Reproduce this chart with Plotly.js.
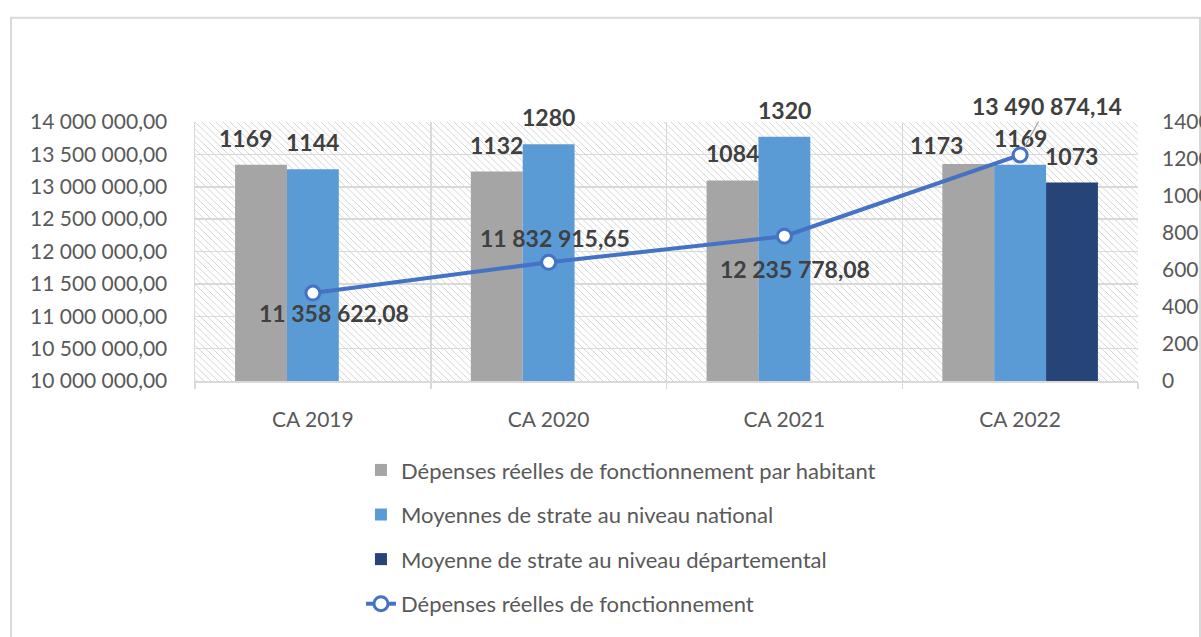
<!DOCTYPE html>
<html>
<head>
<meta charset="utf-8">
<script src="https://cdn.plot.ly/plotly-3.0.1.min.js"></script>
<style>
html,body{margin:0;padding:0;background:#fff;}
#chart{width:1201px;height:637px;}
</style>
</head>
<body>
<div id="chart"></div>
<script>
const categories = ["CA 2019", "CA 2020", "CA 2021", "CA 2022"];
const depParHabitant = [1169, 1132, 1084, 1173];
const moyNational = [1144, 1280, 1320, 1169];
const moyDepartemental = [null, null, null, 1073];
const depReelles = [11358622.08, 11832915.65, 12235778.08, 13490874.14];
const seriesNames = [
  "Dépenses réelles de fonctionnement par habitant",
  "Moyennes de strate au niveau national",
  "Moyenne de strate au niveau départemental",
  "Dépenses réelles de fonctionnement"
];
const barColors = ["#a5a5a5", "#5b9bd5", "#264478"];

const FONT = "Lato, 'Open Sans', sans-serif";
const LABEL_FONT = {family: FONT, size: 23, color: "#404040", weight: "bold"};
const xs = categories.map((c, i) => i);

function fmtFr(v) {
  const parts = v.toFixed(2).split(".");
  return parts[0].replace(/\B(?=(\d{3})+(?!\d))/g, " ") + "," + parts[1];
}

const barSeries = [depParHabitant, moyNational, moyDepartemental];
const traces = barSeries.map((vals, s) => ({
  type: "bar", x: xs, y: vals, name: seriesNames[s], yaxis: "y",
  marker: {color: barColors[s]}, hoverinfo: "skip", legendgroup: "g" + s
}));
traces.push({
  type: "scatter", mode: "lines+markers", x: xs, y: depReelles, name: seriesNames[3],
  yaxis: "y2", line: {color: "#4472c4", width: 4},
  marker: {size: 14, color: "#ffffff", line: {color: "#4472c4", width: 3}},
  cliponaxis: false, legendgroup: "g3"
});

// bar label annotations (slot offsets & per-label nudges are styling only)
const slotOff = [-0.22, 0, 0.22];
const barNudge = [
  [-16, 0, 0, -32],
  [0, 0, 0, 0],
  [0, 0, 0, 0]
];
const barRaise = [
  [11, 11, 11, 3],
  [11, 11, 11, 11],
  [11, 11, 11, 11]
];
const annotations = [];
barSeries.forEach((vals, s) => {
  vals.forEach((v, i) => {
    if (v == null) return;
    annotations.push({
      x: xs[i] + slotOff[s], y: v, xref: "x", yref: "y", text: String(v),
      showarrow: false, yanchor: "bottom", xshift: barNudge[s][i], yshift: barRaise[s][i],
      font: LABEL_FONT
    });
  });
});

const labOff = [
  {dx: 21, dy: -20, arrow: false},
  {dx: 6, dy: 24, arrow: false},
  {dx: 11, dy: -33, arrow: false},
  {dx: 27, dy: 49, arrow: true}
];
depReelles.forEach((v, i) => {
  const o = labOff[i];
  const a = {x: xs[i], y: v, xref: "x", yref: "y2", text: fmtFr(v), font: LABEL_FONT};
  if (o.arrow) {
    Object.assign(a, {showarrow: true, arrowhead: 0, arrowwidth: 1.2, arrowcolor: "#a6a6a6",
      ax: o.dx, ay: -o.dy, standoff: 8});
  } else {
    Object.assign(a, {showarrow: false, xshift: o.dx, yshift: o.dy});
  }
  annotations.push(a);
});

const hatchSvg = '<svg xmlns="http://www.w3.org/2000/svg" width="943" height="268">' +
  '<defs><pattern id="h" width="7" height="7" patternUnits="userSpaceOnUse">' +
  '<path d="M-1,-1 L8,8 M-1,6 L1,8 M6,-1 L8,1" stroke="#d4d4d4" stroke-width="1"/>' +
  '</pattern></defs><rect width="943" height="268" fill="#fff"/><rect width="943" height="268" fill="url(#h)"/></svg>';
const hatchUri = "data:image/svg+xml;charset=utf-8," + encodeURIComponent(hatchSvg);

const TICK_FONT = {family: FONT, size: 21, color: "#595959"};

const layout = {
  width: 1201, height: 637,
  margin: {l: 195, r: 63, t: 122, b: 247},
  paper_bgcolor: "#ffffff",
  plot_bgcolor: "rgba(0,0,0,0)",
  separators: ", ",
  font: {family: FONT, size: 18, color: "#595959"},
  barmode: "group", bargap: 0.34, bargroupgap: 0,
  showlegend: true,
  legend: {
    orientation: "v", x: 0.176, xanchor: "left", y: -0.263, yanchor: "top",
    font: {family: FONT, size: 22, color: "#595959"},
    traceorder: "grouped", tracegroupgap: 13, itemwidth: 30
  },
  xaxis: {
    range: [-0.5, 3.5], tickvals: xs, ticktext: categories,
    showgrid: false, zeroline: false, showline: true, linecolor: "#d9d9d9", linewidth: 1.5,
    ticks: "", tickfont: TICK_FONT, ticklabelstandoff: 19,
    minor: {tickvals: [-0.5, 0.5, 1.5, 2.5, 3.5], showgrid: true, gridcolor: "#d9d9d9", gridwidth: 1.5,
      ticks: "outside", ticklen: 6, tickcolor: "#d9d9d9", tickwidth: 1.5},
    fixedrange: true
  },
  yaxis: {
    range: [0, 1400], dtick: 200, tick0: 0, side: "right",
    showgrid: false, zeroline: false, showline: false, ticks: "",
    tickfont: TICK_FONT, ticklabelstandoff: 23, automargin: false
  },
  yaxis2: {
    range: [10000000, 14000000], dtick: 500000, tick0: 10000000, tickformat: ",.2f",
    overlaying: "y", side: "left",
    showgrid: true, gridcolor: "#d9d9d9", gridwidth: 1.5, zeroline: false,
    showline: true, linecolor: "#d9d9d9", linewidth: 1.5, ticks: "",
    tickfont: TICK_FONT, ticklabelstandoff: 22, automargin: false
  },
  images: [{
    source: hatchUri, xref: "paper", yref: "paper", x: 0, y: 1, sizex: 1, sizey: 1,
    xanchor: "left", yanchor: "top", sizing: "stretch", layer: "below"
  }],
  shapes: [{
    type: "rect", xref: "paper", yref: "paper",
    x0: (11 - 195) / 943, x1: (1200 - 195) / 943, y0: -1, y1: (390 - 14) / 268,
    line: {color: "#d9d9d9", width: 2}, fillcolor: "rgba(0,0,0,0)", layer: "below"
  }],
  annotations: annotations
};

Plotly.newPlot("chart", traces, layout, {displayModeBar: false, staticPlot: true});
</script>
</body>
</html>
